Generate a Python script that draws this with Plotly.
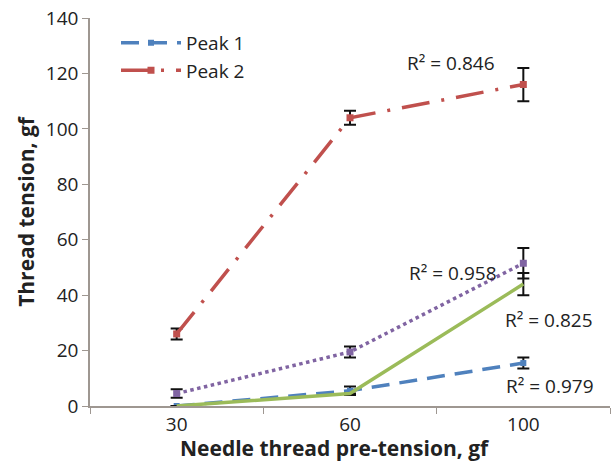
import plotly.graph_objects as go

categories = ["30", "60", "100"]
peak1 = [0, 5.5, 15.5]
peak1_err = [0, 1.5, 2]
peak2 = [26, 104, 116]
peak2_err = [2, 2.5, 6]
purple = [4.5, 19.5, 51.5]
purple_err = [1.5, 2, 5.5]
green = [0, 4.5, 44]
green_err = [0, 0, 4]
r2_labels = ["R² = 0.846", "R² = 0.958", "R² = 0.825", "R² = 0.979"]

FONT = "Open Sans"
err_style = dict(type="data", visible=True, color="#111111", thickness=2, width=6)

fig = go.Figure()
fig.add_trace(go.Scatter(x=categories, y=peak1, mode="lines+markers", name="Peak 1",
                         line=dict(color="#4f81bd", width=3.5, dash="18px,10px"),
                         marker=dict(symbol="square", size=6, color="#4f81bd"),
                         error_y=dict(array=peak1_err, **err_style)))
fig.add_trace(go.Scatter(x=categories, y=peak2, mode="lines+markers", name="Peak 2",
                         line=dict(color="#c0504d", width=3.5, dash="28px,12px,3px,12px"),
                         marker=dict(symbol="square", size=7, color="#c0504d"),
                         error_y=dict(array=peak2_err, **err_style)))
fig.add_trace(go.Scatter(x=categories, y=purple, mode="lines+markers", name="p", showlegend=False,
                         line=dict(color="#8064a2", width=3.5, dash="dot"),
                         marker=dict(symbol="square", size=7, color="#8064a2"),
                         error_y=dict(array=purple_err, **err_style)))
fig.add_trace(go.Scatter(x=categories, y=green, mode="lines", name="g", showlegend=False,
                         line=dict(color="#9bbb59", width=3.5),
                         error_y=dict(array=green_err, **err_style)))

ann_pos = [(0.694, 0.884), (0.698, 0.343), (0.883, 0.222), (0.885, 0.052)]
for (ax, ay), txt in zip(ann_pos, r2_labels):
    fig.add_annotation(x=ax, y=ay, xref="paper", yref="paper", text=txt, showarrow=False,
                       xanchor="center", yanchor="middle",
                       font=dict(family=FONT, size=19, color="#222222"))

fig.add_annotation(x=0.471, y=-0.108, xref="paper", yref="paper",
                   text="<b>Needle thread pre-tension, gf</b>", showarrow=False,
                   xanchor="center", yanchor="middle",
                   font=dict(family=FONT, size=21, color="#222222"))

axis_col = "#9e9791"
fig.update_layout(
    width=613, height=465,
    margin=dict(l=90, r=3, t=18, b=59),
    paper_bgcolor="white", plot_bgcolor="white",
    font=dict(family=FONT, size=19, color="#222222"),
    legend=dict(x=0.05, y=0.985, xanchor="left", yanchor="top", bgcolor="rgba(0,0,0,0)",
                font=dict(size=19), itemwidth=60, tracegroupgap=0),
    xaxis=dict(type="category", tickson="boundaries", ticks="outside", ticklen=6,
               tickcolor=axis_col, showline=True, linecolor=axis_col, linewidth=1.5,
               showgrid=False, range=[-0.5, 2.5]),
    yaxis=dict(range=[0, 140], dtick=20, ticks="outside", ticklen=6, tickcolor=axis_col,
               showline=True, linecolor=axis_col, linewidth=1.5, showgrid=False, zeroline=False,
               title=dict(text="<b>Thread tension, gf</b>", font=dict(size=21), standoff=6)),
)

fig.write_html("out.html")
